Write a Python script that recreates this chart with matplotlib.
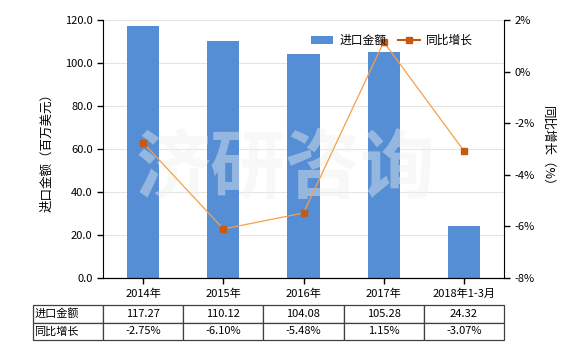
import matplotlib.pyplot as plt
from matplotlib.ticker import FuncFormatter
import numpy as np

plt.rcParams['font.family'] = ['Noto Sans CJK SC', 'DejaVu Sans']

# data
categories = ["2014年", "2015年", "2016年", "2017年", "2018年1-3月"]
amounts    = [117.27, 110.12, 104.08, 105.28, 24.32]
growth     = [-2.75, -6.10, -5.48, 1.15, -3.07]
amount_txt = ["117.27", "110.12", "104.08", "105.28", "24.32"]
growth_txt = ["-2.75%", "-6.10%", "-5.48%", "1.15%", "-3.07%"]

W, H = 580, 350
fig = plt.figure(figsize=(W / 100, H / 100), dpi=100)

# plot area in pixels
left, right, top, bottom = 103, 504, 20, 278
ax = fig.add_axes([left / W, 1 - bottom / H, (right - left) / W, (bottom - top) / H])

x = np.arange(len(categories))
bars = ax.bar(x, amounts, width=0.4, color="#558ED5", zorder=2, label="进口金额")
ax.set_xlim(-0.5, len(categories) - 0.5)
ax.set_ylim(0, 120)
ax.set_yticks(np.arange(0, 121, 20))
ax.yaxis.set_major_formatter(FuncFormatter(lambda v, p: "%.1f" % v))
ax.set_xticks(x)
ax.set_xticklabels(categories)
ax.grid(axis="y", color="#e6e6e0", linewidth=0.8, zorder=0)
ax.set_axisbelow(True)
ax.tick_params(labelsize=8, length=4, width=1, color="black")
ax.spines["top"].set_visible(False)
ax.spines["right"].set_visible(False)
ax.set_ylabel("进口金额（百万美元）", fontsize=9, labelpad=8)

ax2 = ax.twinx()
line, = ax2.plot(x, growth, color="#F5A04A", linewidth=0.9, marker="s",
                 markersize=5, markerfacecolor="#C55A11", markeredgecolor="#C55A11",
                 zorder=3, label="同比增长")
ax2.set_ylim(-8, 2)
ax2.set_yticks(np.arange(-8, 3, 2))
ax2.yaxis.set_major_formatter(FuncFormatter(lambda v, p: "%d%%" % v))
ax2.tick_params(labelsize=8, length=4, width=1, color="black")
ax2.spines["top"].set_visible(False)
ax2.spines["left"].set_visible(False)
ax2.set_ylabel("同比增长（%）", fontsize=9, rotation=270, labelpad=14)

# watermark
ax.text(0.455, 0.42, "济研咨询", transform=ax.transAxes, fontsize=54, fontweight="bold",
        color="#eef1ee", alpha=0.42, ha="center", va="center", zorder=2.5)

# legend
leg_line = plt.Line2D([], [], color="#C55A11", linewidth=1.5, marker="s",
                      markersize=4, markerfacecolor="#C55A11")
ax2.legend([bars, leg_line], ["进口金额", "同比增长"], loc="center right",
           bbox_to_anchor=(0.95, 0.92), ncol=2, frameon=False, fontsize=8.5,
           handlelength=1.9, handletextpad=0.5, columnspacing=1.0)

# table under the chart
tleft, tright, ttop, tbot = 33, 504, 305, 340
tx0 = (tleft - left) / (right - left)
tw = (tright - tleft) / (right - left)
ty0 = (bottom - tbot) / (bottom - top)
th = (tbot - ttop) / (bottom - top)
cells = [["进口金额"] + amount_txt, ["同比增长"] + growth_txt]
first_w = (103 - tleft) / (tright - tleft)
col_w = [first_w] + [(1 - first_w) / 5] * 5
tbl = ax.table(cellText=cells, colWidths=col_w, bbox=[tx0, ty0, tw, th],
               cellLoc="center")
tbl.auto_set_font_size(False)
tbl.set_fontsize(8)
for (r, c), cell in tbl.get_celld().items():
    cell.set_edgecolor("#404040")
    cell.set_linewidth(0.9)
    if c == 0:
        cell.set_text_props(ha="left")
        cell.PAD = 0.02

fig.savefig("out.png", dpi=100)
